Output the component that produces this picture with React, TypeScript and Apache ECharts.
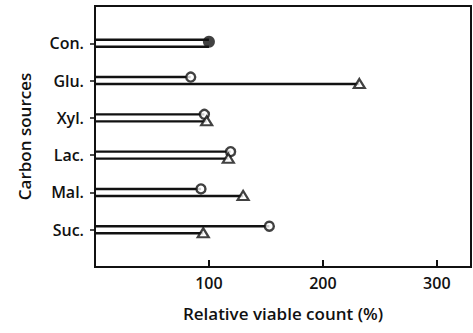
import React, { useEffect, useRef } from "react";
import * as echarts from "echarts";

const categories = ["Con.", "Glu.", "Xyl.", "Lac.", "Mal.", "Suc."];
const circleValues = [100, 84, 96, 119, 93, 153];
const triangleValues: (number | null)[] = [null, 232, 98, 117, 130, 95];
const lowerLineValues = [100, 232, 98, 117, 130, 95];
const xTicks = [100, 200, 300];
const controlIndex = 0;

const FONT = "Open Sans";
const INK = "#111";

export default function App() {
  const ref = useRef<HTMLDivElement>(null);
  useEffect(() => {
    if (!ref.current) return;
    const chart = echarts.init(ref.current, undefined, { renderer: "svg" });
    const OFF = 3.5;
    const lineData: number[][] = [];
    categories.forEach((_, i) => {
      lineData.push([circleValues[i], i + 1, -OFF]);
      lineData.push([lowerLineValues[i], i + 1, OFF]);
    });
    const openCircles = circleValues
      .map((v, i) => (i === controlIndex ? null : [v, i + 1]))
      .filter((d) => d !== null);
    const filledCircles = [[circleValues[controlIndex], controlIndex + 1]];
    const triangles = triangleValues
      .map((v, i) => (v === null ? null : [v, i + 1]))
      .filter((d) => d !== null);

    chart.setOption({
      animation: false,
      backgroundColor: "#fff",
      grid: {
        left: 95,
        right: 2,
        top: 6,
        bottom: 66,
        show: true,
        borderColor: INK,
        borderWidth: 2,
        containLabel: false,
      },
      xAxis: {
        type: "value",
        min: 0,
        max: 330,
        position: "bottom",
        name: "Relative viable count (%)",
        nameLocation: "middle",
        nameGap: 38,
        nameTextStyle: { fontFamily: FONT, fontSize: 17, fontWeight: 600, color: INK },
        axisLine: { show: true, onZero: false, lineStyle: { color: INK, width: 2 } },
        axisTick: {
          show: true,
          inside: true,
          length: 7,
          customValues: xTicks,
          lineStyle: { color: INK, width: 2 },
        },
        axisLabel: {
          customValues: xTicks,
          margin: 8,
          fontFamily: FONT,
          fontSize: 16,
          fontWeight: 600,
          color: INK,
        },
        splitLine: { show: false },
      },
      yAxis: {
        type: "value",
        min: 0,
        max: 7,
        inverse: true,
        name: "Carbon sources",
        nameLocation: "middle",
        nameGap: 62,
        nameTextStyle: { fontFamily: FONT, fontSize: 17, fontWeight: 600, color: INK },
        axisLine: { show: true, onZero: false, lineStyle: { color: INK, width: 2 } },
        axisTick: {
          show: true,
          inside: false,
          length: 5,
          customValues: [1, 2, 3, 4, 5, 6],
          lineStyle: { color: INK, width: 1.5 },
        },
        axisLabel: {
          customValues: [1, 2, 3, 4, 5, 6],
          formatter: (v: number) => categories[Math.round(v) - 1] ?? "",
          margin: 11,
          fontFamily: FONT,
          fontSize: 16,
          fontWeight: 600,
          color: INK,
        },
        splitLine: { show: false },
      },
      series: [
        {
          type: "custom",
          data: lineData,
          z: 2,
          renderItem: (_params: any, api: any) => {
            const y = api.value(1);
            const off = api.value(2);
            const p0 = api.coord([0, y]);
            const p1 = api.coord([api.value(0), y]);
            return {
              type: "line",
              shape: { x1: p0[0], y1: p0[1] + off, x2: p1[0], y2: p1[1] + off },
              style: { stroke: INK, lineWidth: 2.4 },
            };
          },
        },
        {
          type: "scatter",
          data: openCircles,
          symbol: "circle",
          symbolSize: 9,
          symbolOffset: [0, -OFF],
          z: 3,
          itemStyle: { color: "#fff", borderColor: INK, borderWidth: 2.4 },
        },
        {
          type: "scatter",
          data: triangles,
          symbol: "triangle",
          symbolSize: [11, 9],
          symbolOffset: [0, OFF - 0.5],
          z: 3,
          itemStyle: { color: "#fff", borderColor: INK, borderWidth: 2.2 },
        },
        {
          type: "scatter",
          data: filledCircles,
          symbol: "circle",
          symbolSize: 12,
          symbolOffset: [0, -1.5],
          z: 3,
          itemStyle: { color: INK },
        },
      ],
    });
    return () => chart.dispose();
  }, []);
  return <div ref={ref} style={{ width: 473, height: 333, position: "absolute", left: 0, top: 0 }} />;
}
